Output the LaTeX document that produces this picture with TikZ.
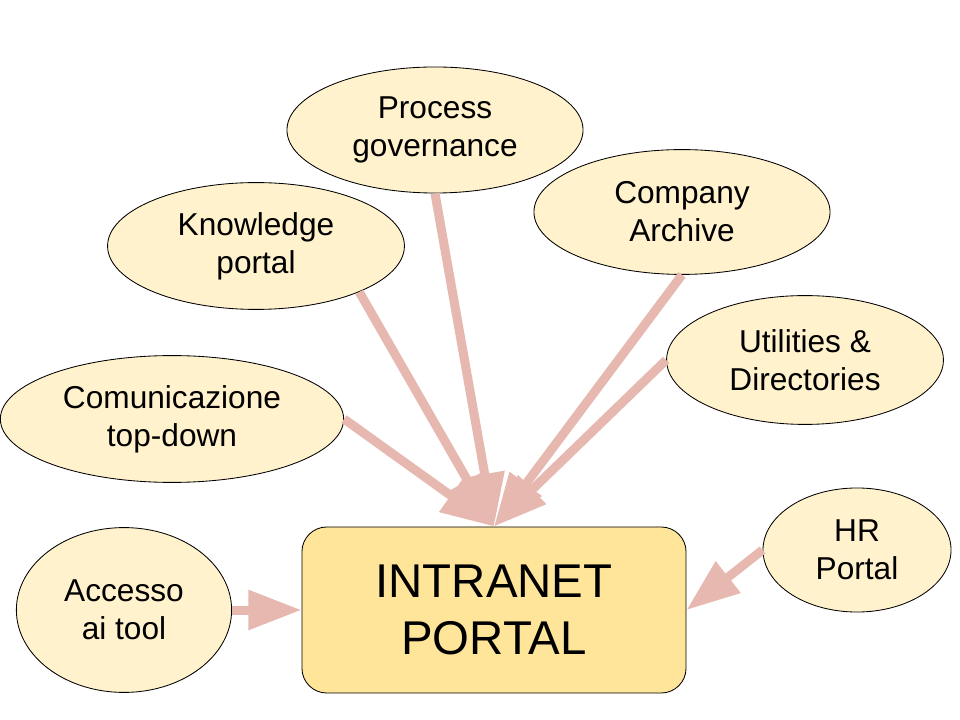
\documentclass[tikz,border=0pt]{standalone}
\usepackage{fontspec}
\setmainfont{Liberation Sans}
\usepackage{tikz}
\usetikzlibrary{shapes.geometric,arrows.meta}
\definecolor{BubbleFill}{HTML}{FFF2CC}
\definecolor{PortalFill}{HTML}{FFE599}
\definecolor{FlowPink}{HTML}{E6B8AF}
\tikzset{%
  bubble/.style={ellipse, draw=black, line width=0.6pt, fill=BubbleFill,
    inner sep=0pt, align=center, font=\fontsize{22.5}{27}\selectfont},
  portal/.style={rectangle, rounded corners=0.62cm, draw=black, line width=0.6pt,
    fill=PortalFill, minimum width=9.6cm, minimum height=4.15cm, align=center,
    font=\fontsize{33.7}{40.5}\selectfont},
  flow/.style={draw=FlowPink, line width=6.4pt,
    -{Triangle[length=1.33cm,width=0.95cm]}}
}
\begin{document}
\begin{tikzpicture}[x=0.025cm,y=-0.025cm]
  \useasboundingbox (0,0) rectangle (960,720);
  \node[portal] (intranet) at (494,610) {INTRANET\\PORTAL};
  \node[bubble, minimum width=7.4cm, minimum height=3.15cm] (proc) at (435,130) {Process\\governance};
  \node[bubble, minimum width=7.42cm, minimum height=3.17cm] (know) at (256,246) {Knowledge\\portal};
  \node[bubble, minimum width=7.4cm, minimum height=3.12cm] (comp) at (682,212) {Company\\Archive};
  \node[bubble, minimum width=6.92cm, minimum height=3.22cm] (util) at (805,360) {Utilities \&\\Directories};
  \node[bubble, minimum width=8.58cm, minimum height=3.17cm] (comm) at (172,419) {Comunicazione\\top-down};
  \node[bubble, minimum width=5.38cm, minimum height=4.12cm] (acc) at (124,610) {Accesso\\ai tool};
  \node[bubble, minimum width=4.7cm, minimum height=3.1cm] (hr) at (857,550) {HR\\Portal};
  % arrows into the portal
  \foreach \from in {comm.east, know.-24, proc.south, comp.south, util.west}
    \draw[flow] (\from) -- (intranet.north);
  \draw[flow] (acc.east) -- (intranet.west);
  \draw[flow] (hr.west) -- (intranet.east);
\end{tikzpicture}
\end{document}
